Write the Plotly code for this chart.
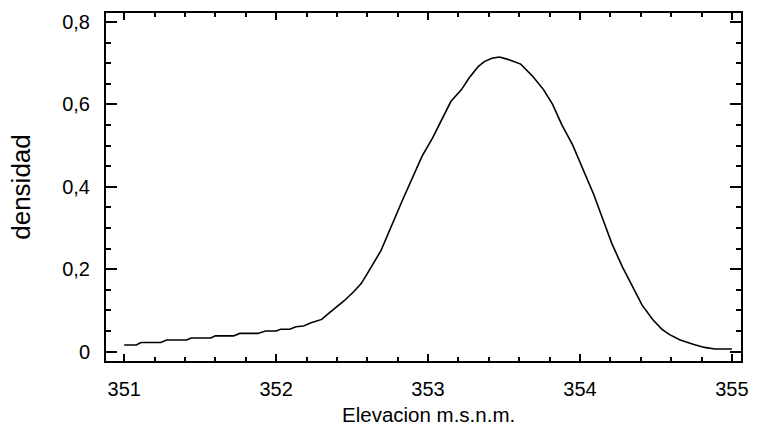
import plotly.graph_objects as go

# Kernel density of elevation (m.s.n.m.)
elevacion = [
    351.00, 351.08, 351.11, 351.24, 351.28, 351.41, 351.44, 351.57, 351.60, 351.72,
    351.76, 351.88, 351.93, 352.00, 352.03, 352.09, 352.13, 352.18, 352.23, 352.30,
    352.34, 352.40, 352.45, 352.51, 352.56, 352.60, 352.64, 352.69, 352.83, 352.89,
    352.96, 353.03, 353.10, 353.15, 353.22, 353.27, 353.33, 353.37, 353.42, 353.47,
    353.52, 353.61, 353.69, 353.76, 353.82, 353.88, 353.95, 354.01, 354.09, 354.15,
    354.21, 354.28, 354.35, 354.41, 354.48, 354.54, 354.59, 354.66, 354.75, 354.82,
    354.89, 355.00,
]
densidad = [
    0.016, 0.016, 0.022, 0.022, 0.028, 0.028, 0.033, 0.033, 0.038, 0.038,
    0.044, 0.044, 0.050, 0.050, 0.054, 0.054, 0.060, 0.062, 0.070, 0.078,
    0.091, 0.108, 0.124, 0.145, 0.165, 0.189, 0.213, 0.245, 0.366, 0.414,
    0.474, 0.519, 0.571, 0.607, 0.636, 0.664, 0.692, 0.704, 0.712, 0.715,
    0.710, 0.698, 0.668, 0.636, 0.600, 0.551, 0.503, 0.452, 0.382, 0.322,
    0.262, 0.205, 0.155, 0.112, 0.077, 0.054, 0.041, 0.028, 0.017, 0.010,
    0.006, 0.006,
]

x_ticks = [351, 352, 353, 354, 355]
y_ticks = [0, 0.2, 0.4, 0.6, 0.8]
x_title = "Elevacion m.s.n.m."
y_title = "densidad"

fig = go.Figure(
    go.Scatter(
        x=elevacion, y=densidad, mode="lines",
        line=dict(color="black", width=1.6),
        hoverinfo="skip",
    )
)

axis_common = dict(
    showgrid=False, zeroline=False,
    showline=True, linecolor="black", linewidth=2,
    mirror="ticks", ticks="inside", tickcolor="black", tickwidth=2,
    tickfont=dict(family="Liberation Sans, Arial", size=20, color="black"),
)

fig.update_xaxes(
    **axis_common,
    range=[350.88, 355.06],
    tickvals=x_ticks, ticklen=7,
    minor=dict(dtick=0.2, tick0=351, ticks="inside", ticklen=4, tickwidth=2, tickcolor="black"),
    ticklabelstandoff=9,
)
fig.update_yaxes(
    **axis_common,
    range=[-0.023, 0.822],
    tickvals=y_ticks, ticklen=11,
    minor=dict(dtick=0.05, tick0=0, ticks="inside", ticklen=5, tickwidth=2, tickcolor="black"),
    ticklabelstandoff=10,
    title=dict(text=y_title, standoff=24,
               font=dict(family="Liberation Sans, Arial", size=26, color="black")),
)

# x-axis title, centred under 353
fig.add_annotation(
    text=x_title, x=353, xref="x", y=-0.153, yref="paper",
    xanchor="center", yanchor="middle", showarrow=False,
    font=dict(family="Liberation Sans, Arial", size=20.5, color="black"),
)

fig.update_layout(
    width=759, height=432,
    margin=dict(l=106, r=11, t=11, b=71),
    paper_bgcolor="white", plot_bgcolor="white",
    separators=",.",
    showlegend=False,
)

fig.write_html("out.html")
